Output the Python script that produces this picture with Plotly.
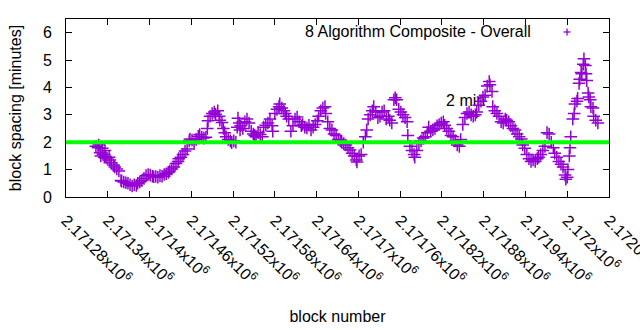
import plotly.graph_objects as go

# ---- data ----
BLOCKS = [
    2171323, 2171326, 2171327, 2171329, 2171330, 2171332, 2171333, 2171335, 2171336, 2171337,
    2171339, 2171342, 2171343, 2171345, 2171348, 2171350, 2171353, 2171356, 2171359, 2171360,
    2171363, 2171366, 2171369, 2171372, 2171375, 2171378, 2171381, 2171383, 2171386, 2171389,
    2171392, 2171395, 2171398, 2171401, 2171404, 2171406, 2171409, 2171412, 2171415, 2171418,
    2171421, 2171424, 2171427, 2171429, 2171432, 2171435, 2171438, 2171441, 2171442, 2171445,
    2171448, 2171451, 2171454, 2171457, 2171458, 2171461, 2171464, 2171467, 2171470, 2171472,
    2171475, 2171478, 2171481, 2171483, 2171484, 2171487, 2171490, 2171493, 2171495, 2171498,
    2171500, 2171501, 2171504, 2171506, 2171508, 2171510, 2171513, 2171516, 2171518, 2171521,
    2171524, 2171526, 2171527, 2171529, 2171530, 2171531, 2171534, 2171537, 2171540, 2171543,
    2171546, 2171549, 2171551, 2171553, 2171556, 2171559, 2171562, 2171564, 2171567, 2171570,
    2171573, 2171576, 2171577, 2171580, 2171583, 2171586, 2171587, 2171590, 2171593, 2171595,
    2171597, 2171600, 2171603, 2171606, 2171609, 2171612, 2171615, 2171618, 2171620, 2171623,
    2171626, 2171629, 2171632, 2171635, 2171638, 2171641, 2171643, 2171646, 2171649, 2171652,
    2171653, 2171656, 2171659, 2171662, 2171665, 2171668, 2171671, 2171674, 2171676, 2171679,
    2171682, 2171685, 2171688, 2171691, 2171694, 2171697, 2171698, 2171701, 2171704, 2171707,
    2171710, 2171712, 2171714, 2171717, 2171720, 2171722, 2171725, 2171728, 2171731, 2171734,
    2171737, 2171740, 2171743, 2171745, 2171748, 2171751, 2171753, 2171755, 2171758, 2171761,
    2171764, 2171767, 2171770, 2171771, 2171774, 2171777, 2171780, 2171781, 2171784, 2171787,
    2171790, 2171793, 2171796, 2171799, 2171801, 2171804, 2171807, 2171810, 2171813, 2171816,
    2171819, 2171822, 2171824, 2171827, 2171830, 2171833, 2171836, 2171839, 2171842, 2171845,
    2171847, 2171850, 2171853, 2171856, 2171859, 2171862, 2171865, 2171868, 2171870, 2171873,
    2171876, 2171879, 2171882, 2171885, 2171888, 2171889, 2171892, 2171893, 2171896, 2171899,
    2171902, 2171905, 2171908, 2171911, 2171913, 2171916, 2171919, 2171922, 2171925, 2171928,
    2171931, 2171934, 2171936, 2171939, 2171942, 2171945, 2171948, 2171951, 2171954, 2171957,
    2171959, 2171962, 2171965, 2171968, 2171971, 2171974, 2171977, 2171980, 2171982, 2171985,
    2171988, 2171991, 2171994, 2171997, 2171998, 2172000, 2172001, 2172003, 2172004, 2172005,
    2172008, 2172010, 2172011, 2172014, 2172015, 2172017, 2172018, 2172020, 2172021, 2172023,
    2172024, 2172026, 2172027, 2172028, 2172030, 2172031, 2172033, 2172034, 2172037, 2172038,
    2172041, 2172044,
]

SPACING_MIN = [
    1.85, 1.80, 1.90, 1.62, 1.50, 1.78, 1.55, 1.45, 1.70, 1.48,
    1.42, 1.45, 1.35, 1.25, 1.17, 1.10, 1.02, 0.95, 0.60, 0.58,
    0.55, 0.52, 0.50, 0.45, 0.40, 0.45, 0.42, 0.50, 0.55, 0.60,
    0.68, 0.78, 0.82, 0.80, 0.76, 0.74, 0.75, 0.72, 0.78, 0.76,
    0.82, 0.85, 0.90, 0.95, 1.02, 1.10, 1.22, 1.30, 1.40, 1.45,
    1.55, 1.68, 1.75, 2.05, 2.12, 2.08, 1.95, 2.10, 2.22, 2.28,
    2.18, 2.15, 2.18, 2.50, 2.78, 2.95, 3.05, 3.10, 3.02, 3.15,
    2.95, 2.80, 2.72, 2.50, 2.35, 2.20, 2.10, 2.05, 1.98, 2.05,
    2.00, 2.55, 2.88, 2.70, 2.45, 2.60, 2.50, 2.75, 2.85, 2.70,
    2.40, 2.30, 2.25, 2.20, 2.35, 2.28, 2.20, 2.55, 2.62, 2.70,
    2.85, 2.60, 2.40, 3.05, 3.20, 3.30, 3.40, 3.25, 3.15, 3.05,
    2.95, 2.85, 2.40, 2.60, 2.85, 2.92, 2.75, 2.60, 2.65, 2.55,
    2.52, 2.62, 2.45, 2.55, 2.65, 2.78, 2.95, 3.15, 3.25, 3.30,
    3.05, 2.75, 2.50, 2.45, 2.30, 2.25, 2.10, 2.05, 2.00, 1.95,
    1.90, 1.80, 1.72, 1.60, 1.50, 1.35, 1.28, 1.50, 1.55, 2.00,
    2.20, 2.45, 2.85, 3.00, 3.15, 3.30, 3.10, 2.90, 2.95, 3.10,
    3.15, 2.85, 2.95, 2.80, 2.70, 3.55, 3.62, 3.55, 3.20, 3.10,
    3.00, 2.90, 2.75, 2.25, 1.85, 1.70, 1.55, 1.45, 1.70, 1.95,
    2.05, 2.15, 2.20, 2.35, 2.55, 2.40, 2.45, 2.50, 2.60, 2.65,
    2.70, 2.75, 2.62, 2.50, 2.40, 2.25, 2.20, 2.05, 1.90, 1.85,
    2.10, 2.65, 2.90, 3.05, 3.10, 3.00, 2.95, 3.00, 3.10, 3.35,
    3.50, 3.65, 3.72, 4.05, 4.22, 4.10, 3.85, 3.30, 3.15, 3.05,
    2.95, 2.75, 2.70, 2.85, 2.80, 2.75, 2.60, 2.50, 2.45, 2.30,
    2.20, 2.12, 1.90, 1.78, 1.55, 1.40, 1.30, 1.35, 1.30, 1.40,
    1.45, 1.55, 1.70, 1.85, 2.35, 2.30, 2.00, 1.80, 1.60, 1.45,
    1.30, 1.20, 1.10, 0.80, 0.65, 0.72, 1.00, 1.50, 1.80, 2.20,
    2.85, 3.05, 3.40, 3.50, 3.60, 4.15, 4.30, 4.55, 4.50, 4.85,
    5.05, 4.80, 4.50, 4.25, 3.80, 3.65, 3.55, 3.30, 3.25, 2.95,
    2.80, 2.70,
]

SERIES_NAME = "8 Algorithm Composite - Overall"
TARGET_MIN = 2
TARGET_LABEL = "2 min"
TARGET_LABEL_POS = (2171826, 3.48)

X_TICK_VALS = [2171280 + 60 * i for i in range(14)]
X_TICK_TEXT = [
    "2.17128x10<sup>6</sup>", "2.17134x10<sup>6</sup>", "2.1714x10<sup>6</sup>",
    "2.17146x10<sup>6</sup>", "2.17152x10<sup>6</sup>", "2.17158x10<sup>6</sup>",
    "2.17164x10<sup>6</sup>", "2.1717x10<sup>6</sup>", "2.17176x10<sup>6</sup>",
    "2.17182x10<sup>6</sup>", "2.17188x10<sup>6</sup>", "2.17194x10<sup>6</sup>",
    "2.172x10<sup>6</sup>", "2.17206x10<sup>6</sup>",
]
Y_TICK_VALS = [0, 1, 2, 3, 4, 5, 6]

X_RANGE = [2171280, 2172060]
Y_RANGE = [0, 6.5]

PURPLE = "#9400D3"
GREEN = "#00FF00"
FONT = "Liberation Sans, Arial, sans-serif"
FS = 16

fig = go.Figure()

# label behind the data (as in the reference)
fig.add_trace(go.Scatter(
    x=[TARGET_LABEL_POS[0]], y=[TARGET_LABEL_POS[1]], mode="text",
    text=[TARGET_LABEL], textposition="middle right",
    textfont=dict(family=FONT, size=FS, color="black"),
    showlegend=False, hoverinfo="skip",
))

fig.add_trace(go.Scatter(
    x=BLOCKS, y=SPACING_MIN, mode="markers", name=SERIES_NAME,
    marker=dict(symbol="cross-thin", size=9, color=PURPLE,
                line=dict(color=PURPLE, width=1.5)),
    showlegend=False,
))

shapes = [
    dict(type="line", xref="paper", yref="y", x0=0, x1=1, y0=TARGET_MIN, y1=TARGET_MIN,
         line=dict(color=GREEN, width=4), layer="above"),
    # gnuplot-style legend sample (+) to the right of the key text
    dict(type="line", xref="paper", yref="paper", xsizemode="pixel", ysizemode="pixel",
         xanchor=0.9227, yanchor=0.927, x0=-3.5, x1=3.5, y0=0, y1=0,
         line=dict(color=PURPLE, width=1.3)),
    dict(type="line", xref="paper", yref="paper", xsizemode="pixel", ysizemode="pixel",
         xanchor=0.9227, yanchor=0.927, x0=0, x1=0, y0=-3.5, y1=3.5,
         line=dict(color=PURPLE, width=1.3)),
]

fig.update_layout(
    width=640, height=330,
    margin=dict(l=66, r=31, t=19, b=133, autoexpand=False),
    paper_bgcolor="white", plot_bgcolor="white",
    font=dict(family=FONT, size=FS, color="black"),
    shapes=shapes,
    annotations=[dict(
        text=SERIES_NAME, xref="paper", yref="paper", x=0.86, y=0.927,
        xanchor="right", yanchor="middle", showarrow=False,
        font=dict(family=FONT, size=FS, color="black"),
    )],
    showlegend=False,
)

fig.update_xaxes(
    range=X_RANGE, tickvals=X_TICK_VALS, ticktext=X_TICK_TEXT, tickangle=45,
    ticks="inside", ticklen=6, tickcolor="black", showline=True, linecolor="black",
    linewidth=1, mirror="ticks", showgrid=False, zeroline=False,
    ticklabelstandoff=7, ticklabeloverflow="allow",
    title=dict(text="block number", standoff=24, font=dict(size=FS)),
)
fig.update_yaxes(
    range=Y_RANGE, tickvals=Y_TICK_VALS,
    ticks="inside", ticklen=6, tickcolor="black", showline=True, linecolor="black",
    linewidth=1, mirror="ticks", showgrid=False, zeroline=False,
    ticklabelstandoff=10,
    title=dict(text="block spacing [minutes]", standoff=17, font=dict(size=FS)),
)

fig.write_html("out.html")
